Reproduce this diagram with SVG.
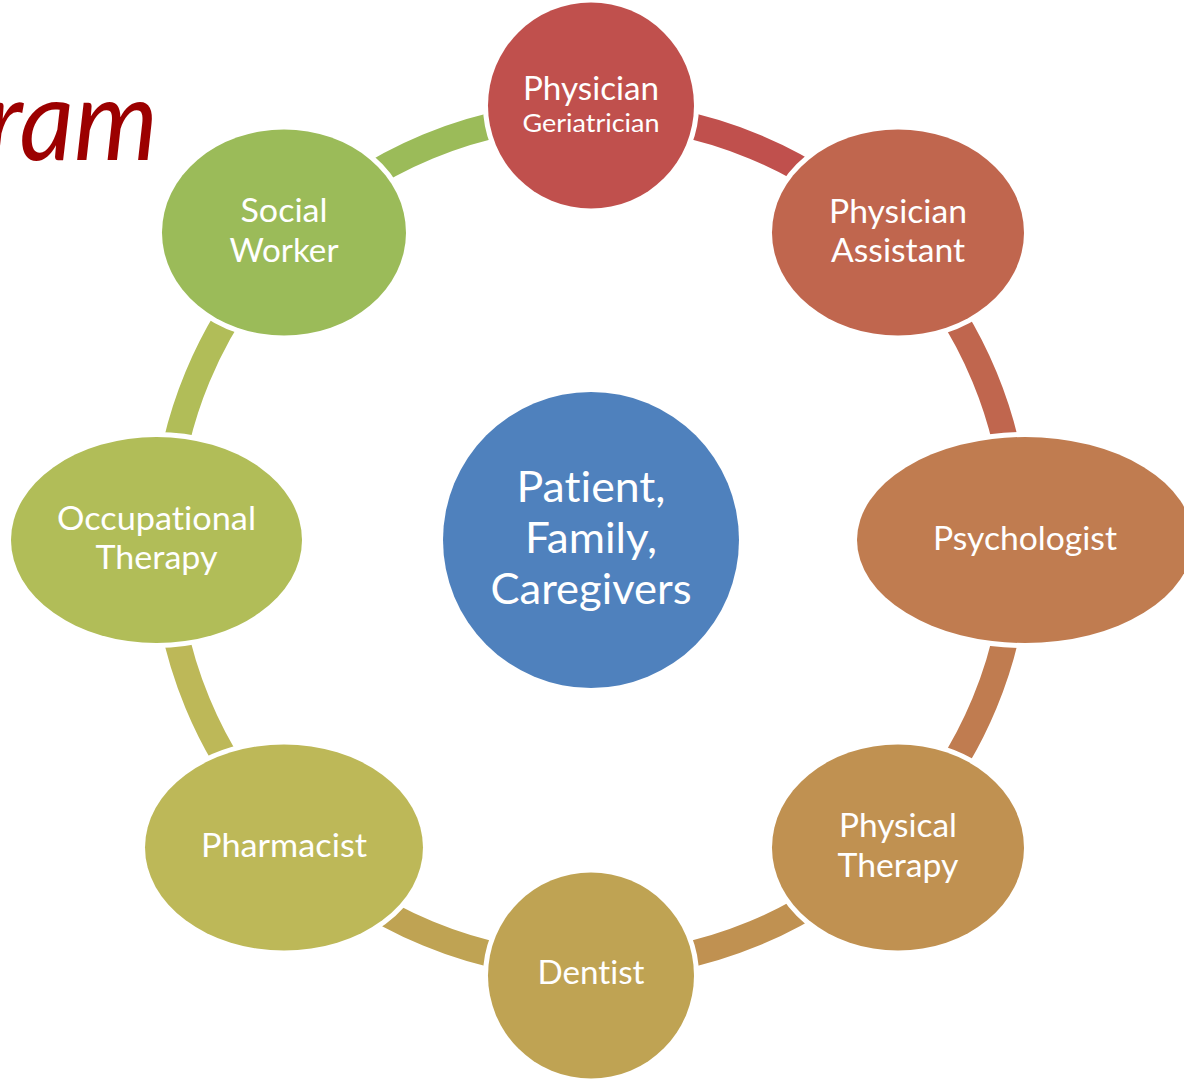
<svg xmlns="http://www.w3.org/2000/svg" width="1184" height="1080" viewBox="0 0 1184 1080">
<style>
  .node { stroke: #ffffff; stroke-width: 10; paint-order: stroke; }
  .lbl { font-family: Lato, "Open Sans", "Liberation Sans", sans-serif; font-size: 32px; fill: #ffffff; text-anchor: middle; font-variant-ligatures: none; font-feature-settings: "liga" 0, "dlig" 0; }
  .small { font-size: 25px; }
  .big { font-size: 42px; }
  .arc { fill: none; stroke-width: 26; stroke-linecap: butt; }
  .title { font-family: Lato, "Open Sans", "Liberation Sans", sans-serif; font-style: italic; font-size: 112px; fill: #9C0000; }
</style>
<rect x="0" y="0" width="1184" height="1080" fill="#ffffff"/>
<text class="title" x="-14" y="160" textLength="172" lengthAdjust="spacingAndGlyphs">ram</text>
<g id="connectors">
  <path class="arc" stroke="#C0504D" d="M 591 114 A 426 426 0 0 1 892.2 238.8"/>
  <path class="arc" stroke="#C0664E" d="M 892.2 238.8 A 426 426 0 0 1 1017 540"/>
  <path class="arc" stroke="#C07C50" d="M 1017 540 A 426 426 0 0 1 892.2 841.2"/>
  <path class="arc" stroke="#C09151" d="M 892.2 841.2 A 426 426 0 0 1 591 966"/>
  <path class="arc" stroke="#BFA353" d="M 591 966 A 426 426 0 0 1 289.8 841.2"/>
  <path class="arc" stroke="#BDB858" d="M 289.8 841.2 A 426 426 0 0 1 165 540"/>
  <path class="arc" stroke="#B1BD58" d="M 165 540 A 426 426 0 0 1 289.8 238.8"/>
  <path class="arc" stroke="#9BBB59" d="M 289.8 238.8 A 426 426 0 0 1 591 114"/>
</g>
<g id="center">
  <circle class="node" cx="591" cy="540" r="148" fill="#4F81BD"/>
  <text class="lbl big" x="591" y="502" textLength="149" lengthAdjust="spacingAndGlyphs">Patient,</text>
  <text class="lbl big" x="591" y="553" textLength="132" lengthAdjust="spacingAndGlyphs">Family,</text>
  <text class="lbl big" x="591" y="604" textLength="201" lengthAdjust="spacingAndGlyphs">Caregivers</text>
</g>
<g id="physician">
  <ellipse class="node" cx="591" cy="105.5" rx="103" ry="103" fill="#C0504D"/>
  <text class="lbl" x="591" y="100" textLength="136" lengthAdjust="spacingAndGlyphs">Physician</text>
  <text class="lbl small" x="591" y="132" textLength="137" lengthAdjust="spacingAndGlyphs">Geriatrician</text>
</g>
<g id="physician-assistant">
  <ellipse class="node" cx="898" cy="232.5" rx="126" ry="103" fill="#C0664E"/>
  <text class="lbl" x="898" y="223" textLength="138" lengthAdjust="spacingAndGlyphs">Physician</text>
  <text class="lbl" x="898" y="262" textLength="134" lengthAdjust="spacingAndGlyphs">Assistant</text>
</g>
<g id="psychologist">
  <ellipse class="node" cx="1025" cy="540" rx="168" ry="103" fill="#C07C50"/>
  <text class="lbl" x="1025" y="550" textLength="184" lengthAdjust="spacingAndGlyphs">Psychologist</text>
</g>
<g id="physical-therapy">
  <ellipse class="node" cx="898" cy="847.5" rx="126" ry="103" fill="#C09151"/>
  <text class="lbl" x="898" y="837" textLength="118" lengthAdjust="spacingAndGlyphs">Physical</text>
  <text class="lbl" x="898" y="877" textLength="121" lengthAdjust="spacingAndGlyphs">Therapy</text>
</g>
<g id="dentist">
  <ellipse class="node" cx="591" cy="975.5" rx="103" ry="103" fill="#BFA353"/>
  <text class="lbl" x="591" y="984" textLength="107" lengthAdjust="spacingAndGlyphs">Dentist</text>
</g>
<g id="pharmacist">
  <ellipse class="node" cx="284" cy="847.5" rx="139" ry="103" fill="#BDB858"/>
  <text class="lbl" x="284" y="857" textLength="166" lengthAdjust="spacingAndGlyphs">Pharmacist</text>
</g>
<g id="occupational-therapy">
  <ellipse class="node" cx="156.5" cy="540" rx="145.5" ry="103" fill="#B1BD58"/>
  <text class="lbl" x="156.5" y="530" textLength="199" lengthAdjust="spacingAndGlyphs">Occupational</text>
  <text class="lbl" x="156.5" y="569" textLength="122" lengthAdjust="spacingAndGlyphs">Therapy</text>
</g>
<g id="social-worker">
  <ellipse class="node" cx="284" cy="232.5" rx="122" ry="103" fill="#9BBB59"/>
  <text class="lbl" x="284" y="222" textLength="87" lengthAdjust="spacingAndGlyphs">Social</text>
  <text class="lbl" x="284" y="262" textLength="109" lengthAdjust="spacingAndGlyphs">Worker</text>
</g>
</svg>
